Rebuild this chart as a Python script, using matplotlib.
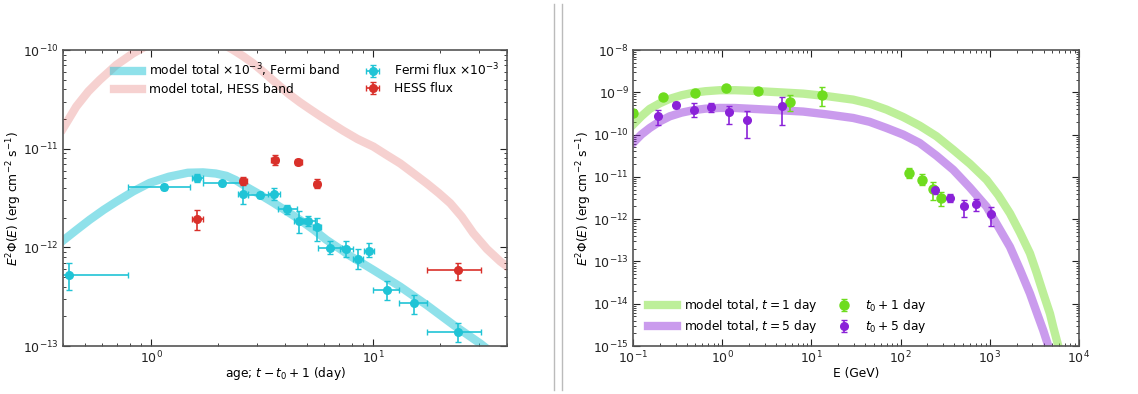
import numpy as np
import matplotlib
matplotlib.use("Agg")
import matplotlib.pyplot as plt
from matplotlib.lines import Line2D

# ---- left panel: light curve ----
fermi_t = [0.424, 1.137, 1.60, 2.09, 2.60, 3.09, 3.56, 4.09, 4.62, 5.09, 5.59,
           6.38, 7.55, 8.55, 9.56, 11.48, 15.2, 24.0]
fermi_t_lo = [0.30, 0.785, 1.52, 1.71, 2.46, 2.73, 3.35, 3.72, 4.40, 4.80, 5.35,
              5.65, 7.07, 8.10, 9.05, 10.0, 13.0, 17.4]
fermi_t_hi = [0.785, 1.50, 1.70, 2.59, 2.73, 3.51, 3.80, 4.55, 4.85, 5.45, 5.80,
              7.19, 8.06, 9.00, 10.1, 13.0, 17.4, 30.6]
fermi_f = [5.25e-13, 4.12e-12, 5.0e-12, 4.45e-12, 3.47e-12, 3.4e-12, 3.45e-12,
           2.43e-12, 1.86e-12, 1.86e-12, 1.60e-12, 9.9e-13, 9.6e-13, 7.7e-13,
           9.1e-13, 3.7e-13, 2.7e-13, 1.40e-13]
fermi_f_lo = [3.7e-13, 3.8e-12, 4.55e-12, 4.2e-12, 2.75e-12, 3.15e-12, 3.0e-12,
              2.2e-12, 1.39e-12, 1.65e-12, 1.17e-12, 8.6e-13, 7.9e-13, 6.0e-13,
              8.0e-13, 2.9e-13, 2.1e-13, 1.1e-13]
fermi_f_hi = [6.9e-13, 4.4e-12, 5.5e-12, 4.7e-12, 4.6e-12, 3.65e-12, 4.0e-12,
              2.7e-12, 2.36e-12, 2.1e-12, 2.0e-12, 1.15e-12, 1.15e-12, 9.7e-13,
              1.1e-12, 4.6e-13, 3.3e-13, 1.72e-13]

hess_t = [1.61, 2.60, 3.59, 4.60, 5.59, 24.0]
hess_t_lo = [1.52, 2.50, 3.45, 4.45, 5.40, 17.4]
hess_t_hi = [1.70, 2.70, 3.72, 4.75, 5.78, 30.6]
hess_f = [1.95e-12, 4.67e-12, 7.67e-12, 7.33e-12, 4.41e-12, 5.9e-13]
hess_f_lo = [1.5e-12, 4.3e-12, 6.8e-12, 6.8e-12, 4.0e-12, 4.7e-13]
hess_f_hi = [2.4e-12, 5.2e-12, 8.6e-12, 7.9e-12, 4.9e-12, 7.0e-13]

fermi_model_t = [0.4, 0.46, 0.527, 0.61, 0.695, 0.83, 0.983, 1.2, 1.46, 1.71,
                 1.95, 2.18, 2.4, 2.68, 3.1, 3.54, 4.1, 4.67, 5.4, 6.15, 7.0,
                 7.85, 10.0, 13.2, 17.4, 23.0, 30.3, 40.0]
fermi_model_f = [1.17e-12, 1.5e-12, 1.9e-12, 2.4e-12, 2.9e-12, 3.7e-12, 4.5e-12,
                 5.2e-12, 5.7e-12, 5.75e-12, 5.6e-12, 5.3e-12, 4.8e-12, 4.1e-12,
                 3.4e-12, 2.84e-12, 2.3e-12, 1.9e-12, 1.5e-12, 1.19e-12,
                 9.8e-13, 8.2e-13, 5.9e-13, 4.0e-13, 2.6e-13, 1.63e-13,
                 1.06e-13, 6.5e-14]

hess_model_t = [0.4, 0.459, 0.52, 0.585, 0.64, 0.695, 0.76, 0.827, 0.95, 1.2,
                1.5, 1.9, 2.34, 2.6, 2.88, 3.25, 3.66, 4.15, 4.67, 5.2, 5.75,
                6.5, 7.32, 8.5, 10.0, 11.5, 13.2, 15.2, 17.4, 19.7, 22.2, 25.0,
                28.2, 32.5, 37.3, 40.0]
hess_model_f = [1.6e-11, 2.67e-11, 3.8e-11, 4.96e-11, 5.95e-11, 7.05e-11,
                8.1e-11, 9.25e-11, 1.1e-10, 1.35e-10, 1.45e-10, 1.3e-10,
                1.0e-10, 8.6e-11, 7.3e-11, 5.8e-11, 4.6e-11, 3.6e-11, 2.95e-11,
                2.5e-11, 2.15e-11, 1.8e-11, 1.52e-11, 1.25e-11, 1.05e-11,
                8.6e-12, 7.1e-12, 5.6e-12, 4.45e-12, 3.55e-12, 2.8e-12,
                2.05e-12, 1.39e-12, 9.6e-13, 7.2e-13, 6.4e-13]

# ---- right panel: spectra ----
day1_e = [0.1, 0.219, 0.492, 1.105, 2.52, 5.72, 13.0, 125, 175, 228, 283]
day1_f = [3.24e-10, 7.8e-10, 9.5e-10, 1.27e-9, 1.10e-9, 5.93e-10, 8.85e-10,
          1.22e-11, 8.5e-12, 5.2e-12, 3.1e-12]
day1_lo = [3.0e-10, 7.2e-10, 8.8e-10, 1.18e-9, 1.0e-9, 3.6e-10, 4.7e-10,
           9.2e-12, 6.3e-12, 2.8e-12, 2.0e-12]
day1_hi = [3.5e-10, 8.4e-10, 1.03e-9, 1.36e-9, 1.2e-9, 8.8e-10, 1.34e-9,
           1.6e-11, 1.15e-11, 7.6e-12, 4.5e-12]

day5_e = [0.19, 0.306, 0.48, 0.757, 1.205, 1.92, 4.73, 244, 354, 517, 693, 1021]
day5_f = [2.8e-10, 5.0e-10, 3.9e-10, 4.5e-10, 3.37e-10, 2.17e-10, 4.85e-10,
          4.9e-12, 3.23e-12, 2.04e-12, 2.28e-12, 1.29e-12]
day5_lo = [1.7e-10, 4.2e-10, 2.6e-10, 3.5e-10, 1.8e-10, 8.3e-11, 1.7e-10,
           4.0e-12, 2.5e-12, 1.15e-12, 1.6e-12, 7.0e-13]
day5_hi = [3.9e-10, 5.8e-10, 5.5e-10, 5.6e-10, 4.65e-10, 3.6e-10, 7.8e-10,
           5.9e-12, 4.0e-12, 2.9e-12, 3.0e-12, 1.9e-12]

model1_e = [0.1, 0.124, 0.154, 0.2, 0.258, 0.35, 0.471, 0.65, 0.938, 1.4, 2.22,
            4.0, 8.07, 15.0, 29.4, 45.0, 69.5, 107, 164, 253, 389, 598, 921,
            1245, 1683, 2180, 2820, 3350, 3980, 4730, 5150, 5860, 6500]
model1_f = [1.71e-10, 2.7e-10, 4.05e-10, 5.5e-10, 7.0e-10, 8.5e-10, 9.7e-10,
            1.06e-9, 1.12e-9, 1.12e-9, 1.08e-9, 1.01e-9, 9.3e-10, 8.1e-10,
            6.7e-10, 5.4e-10, 3.9e-10, 2.6e-10, 1.62e-10, 9.1e-11, 4.37e-11,
            2.04e-11, 8.5e-12, 3.7e-12, 1.37e-12, 4.8e-13, 1.55e-13, 5.4e-14,
            1.74e-14, 5.8e-15, 2.78e-15, 1.0e-15, 4e-16]
model5_e = [0.1, 0.124, 0.154, 0.2, 0.258, 0.35, 0.471, 0.65, 0.938, 1.4, 2.22,
            4.0, 8.07, 15.0, 29.4, 45.0, 69.5, 107, 164, 253, 389, 598, 921,
            1245, 1683, 2180, 2820, 3350, 3980, 4530, 5000]
model5_f = [6.3e-11, 1.0e-10, 1.43e-10, 2.05e-10, 2.7e-10, 3.3e-10, 3.76e-10,
            4.1e-10, 4.27e-10, 4.25e-10, 4.05e-10, 3.8e-10, 3.5e-10, 3.0e-10,
            2.47e-10, 2.0e-10, 1.43e-10, 1.0e-10, 6.3e-11, 3.16e-11, 1.47e-11,
            5.6e-12, 1.97e-12, 6.6e-13, 2.21e-13, 6.4e-14, 1.74e-14, 6.3e-15,
            2.32e-15, 1.0e-15, 5e-16]

c_fermi = "#20c4d6"
c_hess = "#d9302a"
c_day1 = "#6edc1e"
c_day5 = "#8a22d8"

FS = 8.8


def style_axes(ax):
    ax.set_xscale("log")
    ax.set_yscale("log")
    ax.tick_params(which="both", direction="in", top=True, right=True,
                   labelsize=9, colors="#222222", pad=3)
    ax.tick_params(which="major", length=5)
    ax.tick_params(which="minor", length=2.5)
    for s in ax.spines.values():
        s.set_color("#555555")
        s.set_linewidth(1.2)


def asym(v, lo, hi):
    v = np.array(v)
    return [v - np.array(lo), np.array(hi) - v]


fig = plt.figure(figsize=(11.38, 3.94), dpi=100)
ax1 = fig.add_axes([63 / 1138, 48 / 394, 444 / 1138, 296 / 394])
ax2 = fig.add_axes([633 / 1138, 48 / 394, 446 / 1138, 296 / 394])

ylab = r"$E^2\Phi(E)$ (erg cm$^{-2}$ s$^{-1}$)"

# left panel
ax1.plot(fermi_model_t, fermi_model_f, color=c_fermi, alpha=0.5, lw=6,
         label=r"model total $\times 10^{-3}$, Fermi band")
ax1.plot(hess_model_t, hess_model_f, color=c_hess, alpha=0.22, lw=6,
         label="model total, HESS band")
ax1.errorbar(fermi_t, fermi_f, xerr=asym(fermi_t, fermi_t_lo, fermi_t_hi),
             yerr=asym(fermi_f, fermi_f_lo, fermi_f_hi), fmt="o", ms=5.5,
             color=c_fermi, capsize=2.5, elinewidth=1.2,
             label=r"Fermi flux $\times 10^{-3}$")
ax1.errorbar(hess_t, hess_f, xerr=asym(hess_t, hess_t_lo, hess_t_hi),
             yerr=asym(hess_f, hess_f_lo, hess_f_hi), fmt="o", ms=5.5,
             color=c_hess, capsize=2.5, elinewidth=1.2, label="HESS flux")
style_axes(ax1)
ax1.set_xlim(0.4, 40)
ax1.set_ylim(1e-13, 1e-10)
ax1.set_xlabel(r"age; $t - t_0 + 1$ (day)", fontsize=FS, labelpad=-1)
ax1.set_ylabel(ylab, fontsize=FS, labelpad=-1)
ax1.legend(loc="upper left", ncol=2, frameon=False, fontsize=FS,
           bbox_to_anchor=(0.089, 1.0), columnspacing=1.5,
           handlelength=2.3, handletextpad=0.6, labelspacing=0.35)

# right panel
ax2.plot(model1_e, model1_f, color=c_day1, alpha=0.45, lw=6,
         label=r"model total, $t = 1$ day")
ax2.plot(model5_e, model5_f, color=c_day5, alpha=0.45, lw=6,
         label=r"model total, $t = 5$ day")
ax2.errorbar(day1_e, day1_f, yerr=asym(day1_f, day1_lo, day1_hi), fmt="o",
             ms=6.5, color=c_day1, capsize=2.5, elinewidth=1.2,
             label=r"$t_0 + 1$ day")
ax2.errorbar(day5_e, day5_f, yerr=asym(day5_f, day5_lo, day5_hi), fmt="o",
             ms=5.5, color=c_day5, capsize=2.5, elinewidth=1.2,
             label=r"$t_0 + 5$ day")
style_axes(ax2)
ax2.set_xlim(0.1, 1e4)
ax2.set_ylim(1e-15, 1e-8)
ax2.set_xlabel("E (GeV)", fontsize=FS, labelpad=0)
ax2.set_ylabel(ylab, fontsize=FS, labelpad=-1)
ax2.legend(loc="lower left", ncol=2, frameon=False, fontsize=FS,
           bbox_to_anchor=(0.01, 0.0), columnspacing=1.0,
           handlelength=2.3, handletextpad=0.6, labelspacing=0.3)

# divider between the two panels
for xp in (554 / 1138, 561.5 / 1138):
    fig.add_artist(Line2D([xp, xp], [0.01, 0.99], color="#bbbbbb", lw=1))

fig.savefig("out.png", dpi=100)
